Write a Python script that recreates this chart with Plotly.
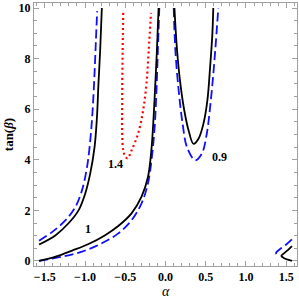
import plotly.graph_objects as go

# ---- data ----
black_upper_alpha = [-1.571, -1.365, -1.202, -1.079, -0.996, -0.935, -0.882, -0.852, -0.833, -0.812, -0.791]
black_upper_tanb = [0.65, 1.02, 1.50, 2.01, 2.68, 3.46, 4.49, 5.67, 7.01, 8.31, 10.0]

blue_upper_alpha = [-1.571, -1.406, -1.242, -1.119, -1.037, -0.975, -0.935, -0.906, -0.882, -0.865, -0.849]
blue_upper_tanb = [0.80, 1.15, 1.61, 2.14, 2.80, 3.71, 4.76, 5.94, 7.40, 8.70, 9.88]

black_lower_alpha = [-1.571, -1.365, -1.160, -0.956, -0.750, -0.587, -0.422, -0.299, -0.218, -0.176, -0.148, -0.127, -0.107, -0.086]
black_lower_tanb = [0.0, 0.17, 0.41, 0.67, 1.02, 1.38, 1.88, 2.53, 3.32, 4.37, 5.68, 7.00, 8.31, 10.0]

blue_lower_alpha = [-1.571, -1.283, -1.037, -0.791, -0.587, -0.422, -0.299, -0.218, -0.169, -0.135, -0.114, -0.095, -0.077]
blue_lower_tanb = [0.0, 0.17, 0.37, 0.70, 1.09, 1.61, 2.27, 3.06, 4.11, 5.29, 6.60, 8.31, 10.0]

red_alpha = [-0.525, -0.533, -0.538, -0.538, -0.525, -0.496, -0.470, -0.422, -0.341, -0.279, -0.237, -0.209, -0.180]
red_tanb = [9.81, 8.31, 6.34, 5.04, 4.37, 4.11, 4.06, 4.37, 5.03, 5.94, 7.00, 8.31, 9.81]

black_u_alpha = [0.111, 0.144, 0.185, 0.234, 0.287, 0.348, 0.410, 0.471, 0.520, 0.554, 0.582, 0.594]
black_u_tanb = [10.0, 8.31, 7.00, 5.94, 5.16, 4.63, 4.83, 5.42, 6.34, 7.65, 8.96, 10.0]

blue_u_alpha = [0.102, 0.123, 0.164, 0.213, 0.267, 0.369, 0.451, 0.513, 0.554, 0.594, 0.627, 0.656]
blue_u_tanb = [10.0, 8.31, 6.73, 5.42, 4.50, 3.98, 4.24, 5.03, 6.07, 7.39, 8.70, 10.0]

black_small_alpha = [1.571, 1.52, 1.46, 1.44, 1.47, 1.52, 1.571]
black_small_tanb = [0.59, 0.43, 0.27, 0.20, 0.12, 0.05, 0.0]

blue_small_alpha = [1.571, 1.50, 1.42, 1.375, 1.38, 1.41]
blue_small_tanb = [0.85, 0.65, 0.46, 0.33, 0.25, 0.20]

contour_labels = ["1.4", "1", "0.9"]
x_ticks = [-1.5, -1.0, -0.5, 0.0, 0.5, 1.0, 1.5]
y_ticks = [0, 2, 4, 6, 8, 10]

BLACK = dict(color="black", width=1.8, shape="spline")
BLUE = dict(color="#1010ff", width=1.8, dash="9px,4px", shape="spline")
RED = dict(color="#ff0000", width=2.2, dash="2px,3px", shape="spline")

fig = go.Figure()
for xs, ys, ln in [
    (blue_upper_alpha, blue_upper_tanb, BLUE),
    (black_upper_alpha, black_upper_tanb, BLACK),
    (blue_lower_alpha, blue_lower_tanb, BLUE),
    (black_lower_alpha, black_lower_tanb, BLACK),
    (red_alpha, red_tanb, RED),
    (blue_u_alpha, blue_u_tanb, BLUE),
    (black_u_alpha, black_u_tanb, BLACK),
    (blue_small_alpha, blue_small_tanb, BLUE),
    (black_small_alpha, black_small_tanb, BLACK),
]:
    fig.add_trace(go.Scatter(x=xs, y=ys, mode="lines", line=ln,
                             showlegend=False, hoverinfo="skip"))

lab_font = dict(family="Liberation Serif", size=12, color="black", weight="bold")
for txt, (ax, ay) in zip(contour_labels, [(-0.627, 3.82), (-0.968, 1.25), (0.677, 4.13)]):
    fig.add_annotation(x=ax, y=ay, text=txt, showarrow=False, font=lab_font)

# x-axis title placed as an annotation under the tick labels
fig.add_annotation(x=0, xref="x", y=-0.097, yref="paper", yanchor="middle",
                   text="<i>α</i>", showarrow=False,
                   font=dict(family="Liberation Serif", size=14, color="black"))

tick_font = dict(family="Liberation Serif", size=12, color="black", weight="bold")
frame = "#a0a0a0"
fig.update_xaxes(range=[-1.634, 1.634], tickvals=x_ticks, tickformat=".1f",
                 ticks="inside", ticklen=5, tickcolor=frame, tickwidth=1,
                 minor=dict(dtick=0.1, ticks="inside", ticklen=3, tickcolor=frame, showgrid=False),
                 showline=True, linecolor=frame, linewidth=1, mirror="allticks",
                 showgrid=False, zeroline=False, tickfont=tick_font)
fig.update_yaxes(range=[-0.2, 10.2], tickvals=y_ticks,
                 ticks="inside", ticklen=5, tickcolor=frame, tickwidth=1,
                 minor=dict(dtick=0.5, ticks="inside", ticklen=3, tickcolor=frame, showgrid=False),
                 showline=True, linecolor=frame, linewidth=1, mirror="allticks",
                 showgrid=False, zeroline=False, tickfont=tick_font,
                 title=dict(text="<b>tan(<i>β</i>)</b>", font=dict(family="Liberation Serif", size=13, color="black"),
                            standoff=2))
fig.update_layout(width=299, height=301, margin=dict(l=34, r=2, t=3, b=35),
                  plot_bgcolor="white", paper_bgcolor="white")
fig.write_html("out.html", config={"displayModeBar": False},
               post_script="document.body.style.margin='0px';document.body.style.overflow='hidden';")
